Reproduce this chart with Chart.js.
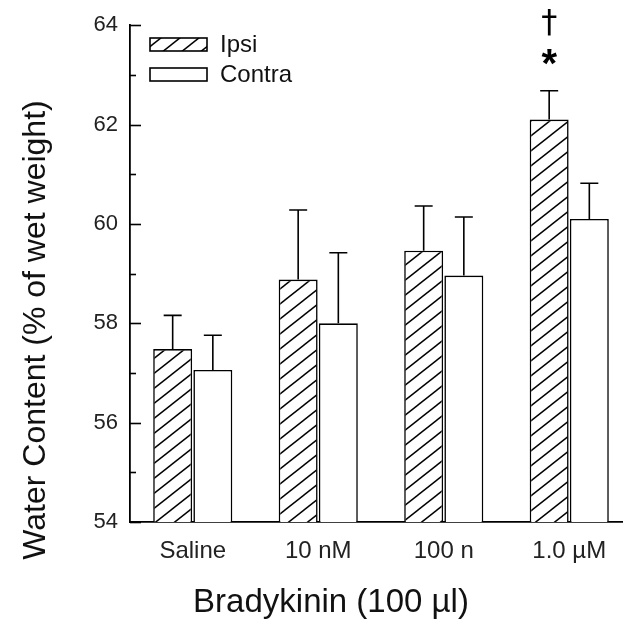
<!DOCTYPE html>
<html>
<head>
<meta charset="utf-8">
<script src="https://cdn.jsdelivr.net/npm/chart.js@4/dist/chart.umd.min.js"></script>
<style>
  html, body { margin: 0; padding: 0; background: #fff; overflow: hidden; }
  #wrap { width: 632px; height: 627px; }
</style>
</head>
<body>
<div id="wrap"><canvas id="myChart" width="632" height="627"></canvas></div>
<script>
const labels = ["Saline", "10 nM", "100 n", "1.0 \u00b5M"];
const ipsi = [57.48, 58.88, 59.46, 62.1];
const ipsiErr = [0.68, 1.4, 0.9, 0.58];
const contra = [57.06, 58.0, 58.96, 60.1];
const contraErr = [0.7, 1.42, 1.18, 0.72];
const yTicks = [54, 56, 58, 60, 62, 64];
const xTitle = "Bradykinin (100 \u00b5l)";
const yTitle = "Water Content (% of wet weight)";

const FONT = "'Liberation Sans', Arial, sans-serif";

function hatchPattern() {
  const c = document.createElement("canvas");
  const w = 19, h = 15;
  c.width = w;
  c.height = h;
  const g = c.getContext("2d");
  g.fillStyle = "#fff";
  g.fillRect(0, 0, w, h);
  g.strokeStyle = "#000";
  g.lineWidth = 1.5;
  for (let k = -1; k <= 1; k++) {
    g.beginPath();
    g.moveTo(-2, h + k * h + 2 * h / w);
    g.lineTo(w + 2, k * h - 2 * h / w);
    g.stroke();
  }
  return document.getElementById("myChart").getContext("2d").createPattern(c, "repeat");
}
const hatch = hatchPattern();

// error bars, inward ticks, titles, legend and significance marks
const extras = {
  id: "extras",
  afterDatasetsDraw(chart) {
    const { ctx, scales: { x, y }, chartArea } = chart;
    ctx.save();
    ctx.strokeStyle = "#000";
    ctx.lineWidth = 1.6;
    const errs = [ipsiErr, contraErr];
    chart.data.datasets.forEach((ds, i) => {
      chart.getDatasetMeta(i).data.forEach((bar, j) => {
        const top = y.getPixelForValue(ds.data[j]);
        const et = y.getPixelForValue(ds.data[j] + errs[i][j]);
        ctx.beginPath();
        ctx.moveTo(bar.x, top);
        ctx.lineTo(bar.x, et);
        ctx.moveTo(bar.x - 9, et);
        ctx.lineTo(bar.x + 9, et);
        ctx.stroke();
      });
    });

    // y ticks pointing inward
    for (let v = 54; v <= 64; v++) {
      const py = Math.round(y.getPixelForValue(v)) + 0.5;
      const len = v % 2 === 0 ? 11 : 6;
      ctx.beginPath();
      ctx.moveTo(chartArea.left, py);
      ctx.lineTo(chartArea.left + len, py);
      ctx.stroke();
    }

    // axis titles
    ctx.fillStyle = "#111";
    ctx.textAlign = "center";
    ctx.textBaseline = "middle";
    ctx.font = "33px " + FONT;
    ctx.fillText(xTitle, 331, 603);
    ctx.font = "32px " + FONT;
    ctx.save();
    ctx.translate(36, 330);
    ctx.rotate(-Math.PI / 2);
    ctx.fillText(yTitle, 0, 0);
    ctx.restore();

    // legend
    const items = [
      { label: chart.data.datasets[0].label, fill: hatch, y: 38 },
      { label: chart.data.datasets[1].label, fill: "#fff", y: 68 },
    ];
    ctx.font = "24px " + FONT;
    ctx.textAlign = "left";
    items.forEach((it) => {
      ctx.fillStyle = it.fill;
      ctx.fillRect(150, it.y, 57, 13);
      ctx.lineWidth = 1.6;
      ctx.strokeRect(150, it.y, 57, 13);
      ctx.fillStyle = "#111";
      ctx.fillText(it.label, 220, it.y + 7);
    });

    // significance marks above 1.0 uM ipsi
    const bar = chart.getDatasetMeta(0).data[3];
    const et = y.getPixelForValue(ipsi[3] + ipsiErr[3]);
    ctx.textAlign = "center";
    ctx.fillStyle = "#000";
    ctx.font = "bold 40px " + FONT;
    ctx.fillText("*", bar.x, et - 25);
    ctx.font = "32px 'DejaVu Sans', " + FONT;
    ctx.fillText("\u2020", bar.x, et - 67);
    ctx.restore();
  },
};

const data = {
  labels,
  datasets: [
    {
      label: "Ipsi",
      data: ipsi,
      backgroundColor: hatch,
      borderColor: "#000",
      borderWidth: 1.6,
      borderSkipped: false,
    },
    {
      label: "Contra",
      data: contra,
      backgroundColor: "#fff",
      borderColor: "#000",
      borderWidth: 1.6,
      borderSkipped: false,
    },
  ],
};

const config = {
  type: "bar",
  data: data,
  options: {
    responsive: false,
    animation: false,
    layout: { padding: { top: 22, right: 0, left: 0, bottom: 0 } },
    datasets: { bar: { categoryPercentage: 0.64, barPercentage: 0.97 } },
    plugins: {
      legend: { display: false },
      tooltip: { enabled: false },
    },
    scales: {
      x: {
        grid: { display: false, drawTicks: false },
        border: { color: "#000", width: 1.8 },
        ticks: {
          color: "#222",
          padding: 15,
          font: { family: FONT, size: 24 },
          maxRotation: 0,
        },
        afterFit(scale) { scale.height = 105; },
      },
      y: {
        min: 54,
        max: 64,
        grid: { display: false, drawTicks: false },
        border: { color: "#000", width: 1.8 },
        afterBuildTicks(scale) {
          scale.ticks = yTicks.map((v) => ({ value: v }));
        },
        ticks: {
          color: "#222",
          padding: 12,
          font: { family: FONT, size: 22 },
        },
        afterFit(scale) { scale.width = 130; },
      },
    },
  },
  plugins: [extras],
};

const myChart = new Chart(document.getElementById("myChart").getContext("2d"), config);
</script>
</body>
</html>
